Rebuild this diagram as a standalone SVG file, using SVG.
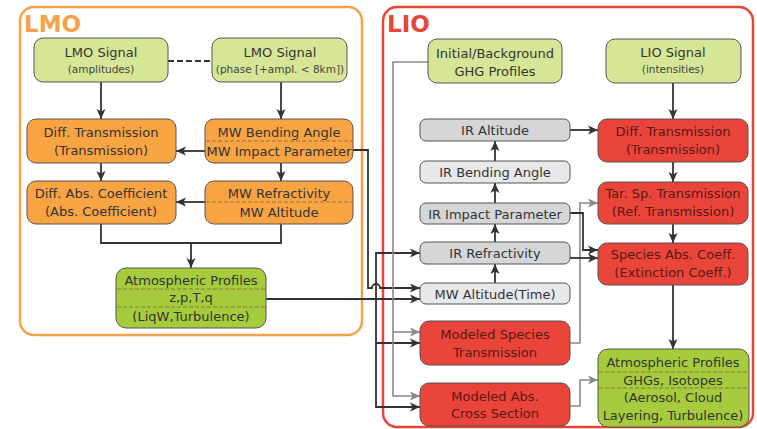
<svg xmlns="http://www.w3.org/2000/svg" width="757" height="429" viewBox="0 0 757 429">
<defs>
<style>
text{font-family:"DejaVu Sans","Liberation Sans",sans-serif;font-size:13px;fill:#333;text-anchor:middle}
.sm{font-size:10.5px;fill:#444}
.ttl{font-size:23px;font-weight:bold;text-anchor:start}
.n{stroke:#555;stroke-width:1}
.lg{fill:#d6e696}
.bg{fill:#a6cc3e}
.or{fill:#f9a443}
.rd{fill:#e9453a}
.g1{fill:#d5d6d8}
.g2{fill:#e7e8e9}
.rt{fill:#5a1812}
.div{stroke:#7a6a40;stroke-width:0.8;stroke-dasharray:4,2;fill:none}
.c{fill:none;stroke:#333;stroke-width:1.8}
.cg{fill:none;stroke:#8a8a8a;stroke-width:1.6}
</style>
<marker id="ab" markerUnits="userSpaceOnUse" markerWidth="11" markerHeight="10" refX="10" refY="5" orient="auto"><path d="M0,0.5 L10,5 L0,9.5 L2.5,5 z" fill="#333"/></marker>
<marker id="ag" markerUnits="userSpaceOnUse" markerWidth="11" markerHeight="10" refX="10" refY="5" orient="auto"><path d="M0,0.5 L10,5 L0,9.5 L2.5,5 z" fill="#8a8a8a"/></marker>
</defs>
<rect width="757" height="429" fill="#fff"/>

<g id="lmo-group">
<rect x="20" y="7" width="342" height="328" rx="14" fill="none" stroke="#f7a24a" stroke-width="2.5"/>
<text class="ttl" x="24" y="32" style="fill:#f7a24a">LMO</text>
</g>
<g id="lio-group">
<rect x="383" y="7" width="370" height="420" rx="14" fill="none" stroke="#e8453a" stroke-width="2.5"/>
<text class="ttl" x="387" y="32" style="fill:#e8453a">LIO</text>
</g>

<g id="connectors">
<path class="c" d="M168,61 H212" stroke-dasharray="6,3"/>
<path class="c" d="M101,82 V119" marker-end="url(#ab)"/>
<path class="c" d="M281,82 V119" marker-end="url(#ab)"/>
<path class="c" d="M205,151 H176" marker-end="url(#ab)"/>
<path class="c" d="M101,163 V181" marker-end="url(#ab)"/>
<path class="c" d="M281,163 V181" marker-end="url(#ab)"/>
<path class="c" d="M205,202 H176" marker-end="url(#ab)"/>
<path class="c" d="M101,224 V243 H281 V224"/>
<path class="c" d="M191,243 V268" marker-end="url(#ab)"/>
<path class="c" d="M353,150 H368 V288 H372 A4,4 0 0 1 380,288 H420" marker-end="url(#ab)"/>
<path class="c" d="M266,299 H420" marker-end="url(#ab)"/>
<path class="c" d="M376,299 V253 H420" marker-end="url(#ab)"/>
<path class="c" d="M376,299 V407 H420" marker-end="url(#ab)"/>
<path class="c" d="M376,343 H420" marker-end="url(#ab)"/>
<path class="cg" d="M428,62 H393 V396 H420" marker-end="url(#ag)"/>
<path class="cg" d="M393,332 H420" marker-end="url(#ag)"/>
<path class="c" d="M495,161 V141" marker-end="url(#ab)"/>
<path class="c" d="M495,203 V183" marker-end="url(#ab)"/>
<path class="c" d="M495,242 V224" marker-end="url(#ab)"/>
<path class="c" d="M495,283 V264" marker-end="url(#ab)"/>
<path class="c" d="M673,83 V119" marker-end="url(#ab)"/>
<path class="c" d="M570,130 H598" marker-end="url(#ab)"/>
<path class="c" d="M673,162 V182" marker-end="url(#ab)"/>
<path class="c" d="M673,224 V243" marker-end="url(#ab)"/>
<path class="c" d="M673,285 V349" marker-end="url(#ab)"/>
<path class="cg" d="M570,343 H580 V203 H598" marker-end="url(#ag)"/>
<path class="c" d="M570,213 H583 V250 H598" marker-end="url(#ab)"/>
<path class="c" d="M570,258 H598" marker-end="url(#ab)"/>
<path class="cg" d="M570,406 H580 V380 H598" marker-end="url(#ag)"/>
</g>

<g id="lmo-signal-amp">
<rect class="n lg" x="34" y="38" width="134" height="44" rx="9"/>
<text x="101" y="57">LMO Signal</text>
<text class="sm" x="101" y="73">(amplitudes)</text>
</g>
<g id="lmo-signal-phase">
<rect class="n lg" x="212" y="38" width="135" height="44" rx="9"/>
<text x="280" y="57">LMO Signal</text>
<text class="sm" x="280" y="73">(phase [+ampl. &lt; 8km])</text>
</g>
<g id="lmo-diff-trans">
<rect class="n or" x="27" y="119" width="149" height="44" rx="9"/>
<text x="101" y="137">Diff. Transmission</text>
<text x="101" y="155">(Transmission)</text>
</g>
<g id="mw-bending">
<rect class="n or" x="205" y="119" width="148" height="44" rx="9"/>
<line class="div" x1="206" y1="141" x2="352" y2="141"/>
<text x="279" y="137">MW Bending Angle</text>
<text x="279" y="156">MW Impact Parameter</text>
</g>
<g id="lmo-diff-abs">
<rect class="n or" x="27" y="181" width="149" height="43" rx="9"/>
<text x="101" y="198">Diff. Abs. Coefficient</text>
<text x="101" y="216">(Abs. Coefficient)</text>
</g>
<g id="mw-refractivity">
<rect class="n or" x="205" y="181" width="148" height="43" rx="9"/>
<line class="div" x1="206" y1="202" x2="352" y2="202"/>
<text x="279" y="198">MW Refractivity</text>
<text x="279" y="217">MW Altitude</text>
</g>
<g id="lmo-atm-profiles">
<rect class="n bg" x="116" y="268" width="150" height="60" rx="10"/>
<line class="div" x1="117" y1="289" x2="265" y2="289"/>
<line class="div" x1="117" y1="307" x2="265" y2="307"/>
<text x="191" y="285">Atmospheric Profiles</text>
<text x="191" y="302">z,p,T,q</text>
<text x="191" y="321">(LiqW,Turbulence)</text>
</g>

<g id="ghg-profiles">
<rect class="n lg" x="428" y="39" width="134" height="44" rx="9"/>
<text x="495" y="58">Initial/Background</text>
<text x="495" y="76">GHG Profiles</text>
</g>
<g id="lio-signal">
<rect class="n lg" x="606" y="39" width="135" height="44" rx="9"/>
<text x="673" y="57">LIO Signal</text>
<text class="sm" x="673" y="73">(intensities)</text>
</g>
<g id="ir-altitude">
<rect class="n g1" x="420" y="119" width="150" height="22" rx="6"/>
<text x="495" y="135">IR Altitude</text>
</g>
<g id="ir-bending">
<rect class="n g2" x="420" y="161" width="150" height="22" rx="6"/>
<text x="495" y="177">IR Bending Angle</text>
</g>
<g id="ir-impact">
<rect class="n g1" x="420" y="203" width="150" height="21" rx="6"/>
<text x="495" y="219">IR Impact Parameter</text>
</g>
<g id="ir-refractivity">
<rect class="n g1" x="420" y="242" width="150" height="22" rx="6"/>
<text x="495" y="258">IR Refractivity</text>
</g>
<g id="mw-altitude-time">
<rect class="n g2" x="420" y="283" width="150" height="21" rx="6"/>
<text x="495" y="299">MW Altitude(Time)</text>
</g>
<g id="modeled-species">
<rect class="n rd" x="420" y="321" width="150" height="44" rx="9"/>
<text class="rt" x="495" y="339">Modeled Species</text>
<text class="rt" x="495" y="357">Transmission</text>
</g>
<g id="modeled-abs">
<rect class="n rd" x="420" y="383" width="150" height="43" rx="9"/>
<text class="rt" x="495" y="401">Modeled Abs.</text>
<text class="rt" x="495" y="418">Cross Section</text>
</g>
<g id="lio-diff-trans">
<rect class="n rd" x="598" y="119" width="150" height="43" rx="9"/>
<text class="rt" x="673" y="136">Diff. Transmission</text>
<text class="rt" x="673" y="154">(Transmission)</text>
</g>
<g id="tar-sp-trans">
<rect class="n rd" x="598" y="182" width="150" height="42" rx="9"/>
<text class="rt" x="673" y="198">Tar. Sp. Transmission</text>
<text class="rt" x="673" y="216">(Ref. Transmission)</text>
</g>
<g id="species-abs">
<rect class="n rd" x="598" y="243" width="150" height="42" rx="9"/>
<text class="rt" x="673" y="259">Species Abs. Coeff.</text>
<text class="rt" x="673" y="277">(Extinction Coeff.)</text>
</g>
<g id="lio-atm-profiles">
<rect class="n bg" x="598" y="349" width="151" height="78" rx="10"/>
<line class="div" x1="599" y1="372" x2="748" y2="372"/>
<line class="div" x1="599" y1="388" x2="748" y2="388"/>
<text x="673" y="367">Atmospheric Profiles</text>
<text x="673" y="385">GHGs, Isotopes</text>
<text x="673" y="402">(Aerosol, Cloud</text>
<text x="673" y="420">Layering, Turbulence)</text>
</g>
</svg>
